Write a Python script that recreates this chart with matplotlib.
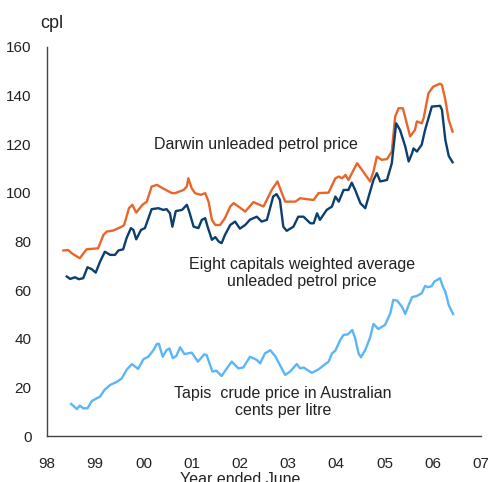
import matplotlib.pyplot as plt

plt.rcParams['font.family'] = ['Liberation Sans', 'DejaVu Sans']

# Darwin unleaded petrol price (cpl)
darwin_t = [1998.34, 1998.44, 1998.51, 1998.68, 1998.82, 1999.06, 1999.17, 1999.24, 1999.37,
            1999.55, 1999.60, 1999.70, 1999.77, 1999.85, 1999.98, 2000.07, 2000.17, 2000.28,
            2000.41, 2000.59, 2000.66, 2000.83, 2000.90, 2000.93, 2001.00, 2001.07, 2001.19,
            2001.28, 2001.35, 2001.42, 2001.49, 2001.59, 2001.69, 2001.80, 2001.87, 2001.97,
            2002.11, 2002.28, 2002.49, 2002.66, 2002.78, 2002.87, 2002.94, 2003.15, 2003.25,
            2003.39, 2003.53, 2003.63, 2003.84, 2003.98, 2004.05, 2004.12, 2004.19, 2004.25,
            2004.43, 2004.53, 2004.70, 2004.77, 2004.84, 2004.94, 2005.05, 2005.15, 2005.22,
            2005.29, 2005.38, 2005.46, 2005.53, 2005.63, 2005.67, 2005.77, 2005.81, 2005.91,
            2006.01, 2006.15, 2006.19, 2006.26, 2006.33, 2006.41]
darwin = [76.3, 76.5, 75.2, 73.1, 76.8, 77.2, 82.7, 84.1, 84.5,
          86.1, 86.8, 93.7, 95.1, 91.9, 95.1, 96.4, 102.6, 103.3,
          101.8, 99.9, 99.9, 101.2, 102.6, 106.0, 101.9, 99.9, 99.2,
          99.9, 96.4, 88.9, 86.8, 86.8, 89.6, 94.4, 95.8, 94.4,
          92.3, 96.2, 94.4, 101.2, 104.7, 99.9, 96.4, 96.4, 97.8,
          97.4, 97.1, 99.9, 100.1, 106.0, 106.7, 106.0, 107.4, 105.3,
          112.2, 109.5, 104.7, 108.8, 114.9, 113.6, 113.9, 117.0, 131.4,
          134.8, 134.8, 128.6, 123.2, 125.9, 129.4, 128.6, 130.7, 141.0,
          143.7, 144.9, 144.4, 138.3, 130.0, 125.2]

# Eight capitals weighted average unleaded petrol price (cpl)
capitals_t = [1998.41, 1998.48, 1998.58, 1998.66, 1998.75, 1998.84, 1998.93, 1999.01, 1999.10,
              1999.20, 1999.31, 1999.41, 1999.48, 1999.58, 1999.65, 1999.74, 1999.79, 1999.85,
              1999.95, 2000.03, 2000.17, 2000.31, 2000.41, 2000.48, 2000.55, 2000.60, 2000.67,
              2000.80, 2000.90, 2000.95, 2001.04, 2001.14, 2001.21, 2001.28, 2001.33, 2001.42,
              2001.49, 2001.56, 2001.62, 2001.69, 2001.80, 2001.90, 2002.00, 2002.11, 2002.21,
              2002.35, 2002.45, 2002.56, 2002.69, 2002.76, 2002.83, 2002.90, 2002.97, 2003.11,
              2003.21, 2003.32, 2003.46, 2003.53, 2003.60, 2003.66, 2003.80, 2003.91, 2003.98,
              2004.05, 2004.15, 2004.25, 2004.32, 2004.39, 2004.50, 2004.60, 2004.67, 2004.77,
              2004.84, 2004.91, 2005.05, 2005.15, 2005.24, 2005.32, 2005.43, 2005.50, 2005.57,
              2005.60, 2005.67, 2005.77, 2005.84, 2005.98, 2006.15, 2006.19, 2006.26, 2006.33,
              2006.41]
capitals = [65.6, 64.6, 65.3, 64.5, 64.9, 69.4, 68.6, 67.2, 71.7,
            75.8, 74.5, 74.5, 76.3, 76.8, 81.4, 85.5, 84.8, 80.9,
            84.8, 85.5, 93.3, 93.7, 93.0, 93.3, 91.6, 86.1, 92.5,
            93.0, 95.1, 92.3, 86.1, 85.5, 88.9, 89.6, 86.1, 80.7,
            81.8, 80.0, 79.3, 82.7, 86.8, 88.2, 85.3, 86.8, 89.0,
            90.2, 88.2, 88.9, 98.5, 99.5, 97.1, 86.1, 84.4, 86.1,
            90.2, 90.2, 87.5, 87.5, 91.6, 88.9, 93.0, 94.4, 98.5,
            96.4, 101.2, 101.2, 104.2, 101.2, 95.7, 93.7, 98.5, 105.3,
            108.1, 104.7, 105.3, 112.2, 128.6, 125.9, 119.0, 112.9, 116.3,
            118.3, 117.0, 119.8, 125.9, 135.5, 135.8, 134.2, 121.8, 115.2,
            112.6]

# Tapis crude price in Australian cents per litre
tapis_t = [1998.50, 1998.62, 1998.68, 1998.75, 1998.84, 1998.93, 1999.03, 1999.10, 1999.19,
           1999.31, 1999.45, 1999.55, 1999.65, 1999.76, 1999.89, 2000.00, 2000.10, 2000.21,
           2000.28, 2000.32, 2000.40, 2000.48, 2000.54, 2000.61, 2000.68, 2000.76, 2000.85,
           2001.00, 2001.13, 2001.26, 2001.31, 2001.43, 2001.51, 2001.62, 2001.73, 2001.83,
           2001.97, 2002.07, 2002.21, 2002.35, 2002.42, 2002.52, 2002.63, 2002.74, 2002.83,
           2002.94, 2003.04, 2003.18, 2003.25, 2003.32, 2003.49, 2003.63, 2003.77, 2003.84,
           2003.91, 2003.98, 2004.08, 2004.15, 2004.24, 2004.33, 2004.39, 2004.46, 2004.51,
           2004.60, 2004.70, 2004.77, 2004.87, 2005.01, 2005.12, 2005.18, 2005.26, 2005.36,
           2005.43, 2005.50, 2005.57, 2005.67, 2005.77, 2005.84, 2005.91, 2005.98, 2006.03,
           2006.15, 2006.21, 2006.26, 2006.33, 2006.42]
tapis = [13.2, 11.1, 12.5, 11.4, 11.4, 14.4, 15.5, 16.2, 18.9,
         21.0, 22.3, 23.7, 27.2, 29.6, 27.6, 31.6, 32.6, 35.4,
         37.9, 37.9, 32.6, 35.4, 36.0, 32.0, 32.9, 36.5, 33.7,
         34.3, 30.6, 33.6, 33.3, 26.5, 26.9, 24.7, 27.8, 30.6,
         27.8, 28.2, 32.6, 31.3, 29.9, 34.0, 35.3, 32.6, 29.2,
         25.1, 26.5, 29.6, 27.8, 28.2, 26.0, 27.4, 29.6, 30.6,
         34.0, 35.1, 39.5, 41.6, 41.8, 43.6, 40.2, 34.0, 32.4,
         35.4, 40.5, 46.1, 44.0, 45.7, 50.5, 56.0, 55.7, 53.2,
         50.2, 53.9, 57.1, 57.6, 58.7, 61.7, 61.2, 61.7, 63.5,
         64.9, 61.4, 59.4, 53.9, 50.2]

years = list(range(1998, 2008))
year_labels = ['98', '99', '00', '01', '02', '03', '04', '05', '06', '07']
y_ticks = [0, 20, 40, 60, 80, 100, 120, 140, 160]

fig = plt.figure(figsize=(4.88, 4.82), dpi=100)
ax = fig.add_axes([0.0963, 0.0954, 0.8894, 0.8071])

ax.plot(darwin_t, darwin, color='#E8652B', lw=1.7)
ax.plot(capitals_t, capitals, color='#0C3F6E', lw=1.7)
ax.plot(tapis_t, tapis, color='#5BB5F6', lw=1.7)

ax.set_xlim(1998, 2007)
ax.set_ylim(0, 160)
ax.set_xticks(years)
ax.set_xticklabels(year_labels)
ax.set_yticks(y_ticks)
ax.tick_params(axis='both', length=0, labelsize=11, colors='#222222')
ax.tick_params(axis='x', pad=15)
ax.tick_params(axis='y', pad=11)

for s in ['top', 'right']:
    ax.spines[s].set_visible(False)
for s in ['left', 'bottom']:
    ax.spines[s].set_color('#444444')
    ax.spines[s].set_linewidth(1.0)

txt = dict(ha='center', va='center', color='#222222', fontsize=11.5, linespacing=1.2)
fig.text(40 / 488, 1 - 23 / 482, 'cpl', fontsize=13, ha='left', va='center', color='#222222')
fig.text(256 / 488, 1 - 145 / 482, 'Darwin unleaded petrol price', **txt)
fig.text(302 / 488, 1 - 273 / 482, 'Eight capitals weighted average\nunleaded petrol price', **txt)
fig.text(283 / 488, 1 - 402 / 482, 'Tapis  crude price in Australian\ncents per litre', **txt)
fig.text(240 / 488, 1 - 480 / 482, 'Year ended June', **txt)

fig.savefig('out.png', dpi=100)
